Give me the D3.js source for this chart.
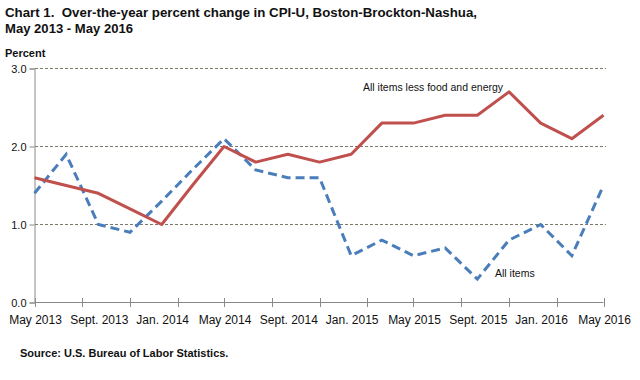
<!DOCTYPE html>
<html><head><meta charset="utf-8">
<script src="https://cdn.jsdelivr.net/npm/d3@7"></script>
<style>body{margin:0;background:#fff}svg{display:block}text{font-family:Arial,"Liberation Sans",sans-serif}</style>
</head><body><svg id="c" width="640" height="380"></svg>
<script>
const dates = ["2013-05","2013-07","2013-09","2013-11","2014-01","2014-03","2014-05","2014-07","2014-09","2014-11","2015-01","2015-03","2015-05","2015-07","2015-09","2015-11","2016-01","2016-03","2016-05"];
const allItems = [1.4,1.9,1.0,0.9,1.3,1.7,2.1,1.7,1.6,1.6,0.6,0.8,0.6,0.7,0.3,0.8,1.0,0.6,1.5];
const coreItems = [1.6,1.5,1.4,1.2,1.0,1.5,2.0,1.8,1.9,1.8,1.9,2.3,2.3,2.4,2.4,2.7,2.3,2.1,2.4];
const xLabelDates = ["2013-05","2013-09","2014-01","2014-05","2014-09","2015-01","2015-05","2015-09","2016-01","2016-05"];
const xLabels = ["May 2013","Sept. 2013","Jan. 2014","May 2014","Sept. 2014","Jan. 2015","May 2015","Sept. 2015","Jan. 2016","May 2016"];
const yTicks = [0,1,2,3];

const parse = d3.timeParse("%Y-%m");
const svg = d3.select("#c");
const x = d3.scaleTime().domain([parse("2013-05"), parse("2016-05")]).range([34.5, 603.5]);
const y = d3.scaleLinear().domain([0,3]).range([302.5, 68.5]);

// title
svg.append("text").attr("x",5).attr("y",17).attr("font-size",13.5).attr("font-weight","bold").attr("fill","#111")
  .attr("textLength",472).attr("lengthAdjust","spacingAndGlyphs")
  .text("Chart 1.\u00a0 Over-the-year percent change in CPI-U, Boston-Brockton-Nashua,");
svg.append("text").attr("x",5).attr("y",33).attr("font-size",13.5).attr("font-weight","bold").attr("fill","#111")
  .attr("textLength",128).attr("lengthAdjust","spacingAndGlyphs")
  .text("May 2013 - May 2016");
svg.append("text").attr("x",5).attr("y",57).attr("font-size",11).attr("font-weight","bold").attr("fill","#111").text("Percent");

// gridlines
svg.append("g").selectAll("line").data(yTicks.filter(d=>d>0)).join("line")
  .attr("x1",35).attr("x2",606).attr("y1",d=>y(d)).attr("y2",d=>y(d))
  .attr("stroke","#7a7a6a").attr("stroke-width",1).attr("stroke-dasharray","3,2");

// y axis
const yAxis = svg.append("g").attr("transform","translate(34.5,0)")
  .call(d3.axisLeft(y).tickValues(yTicks).tickFormat(d3.format(".1f")).tickSize(5).tickPadding(3));
yAxis.select(".domain").attr("stroke","#8a8a8a");
yAxis.selectAll(".tick line").attr("stroke","#8a8a8a");
yAxis.selectAll("text").attr("font-size",11).attr("fill","#111").attr("font-family","Arial,'Liberation Sans',sans-serif");

// x axis
const tickDates = d3.timeMonth.range(parse("2013-05"), d3.timeMonth.offset(parse("2016-05"),1), 3);
const xg = svg.append("g");
xg.append("line").attr("x1",x.range()[0]).attr("x2",x.range()[1]).attr("y1",302.5).attr("y2",302.5).attr("stroke","#8a8a8a");
xg.selectAll("line.t").data(tickDates).join("line").attr("class","t")
  .attr("x1",d=>Math.round(x(d))+0.5).attr("x2",d=>Math.round(x(d))+0.5).attr("y1",298).attr("y2",307).attr("stroke","#8a8a8a");
xg.selectAll("text").data(xLabelDates).join("text")
  .attr("x",d=>x(parse(d))+1).attr("y",324).attr("text-anchor","middle").attr("font-size",12).attr("fill","#111")
  .text((d,i)=>xLabels[i]);

// lines
const line = d3.line().x((d,i)=>x(parse(dates[i]))).y(d=>y(d));
svg.append("path").datum(allItems).attr("d",line).attr("fill","none")
  .attr("stroke","#4a7ebb").attr("stroke-width",3).attr("stroke-dasharray","9,5");
svg.append("path").datum(coreItems).attr("d",line).attr("fill","none")
  .attr("stroke","#c0504d").attr("stroke-width",3).attr("stroke-linejoin","round");

// annotations
svg.append("text").attr("x",363).attr("y",91).attr("font-size",10.5).attr("fill","#111").text("All items less food and energy");
svg.append("text").attr("x",495).attr("y",277).attr("font-size",10.5).attr("fill","#111").text("All items");

// source
svg.append("text").attr("x",20).attr("y",357).attr("font-size",11).attr("font-weight","bold").attr("fill","#111").text("Source: U.S. Bureau of Labor Statistics.");
</script></body></html>
